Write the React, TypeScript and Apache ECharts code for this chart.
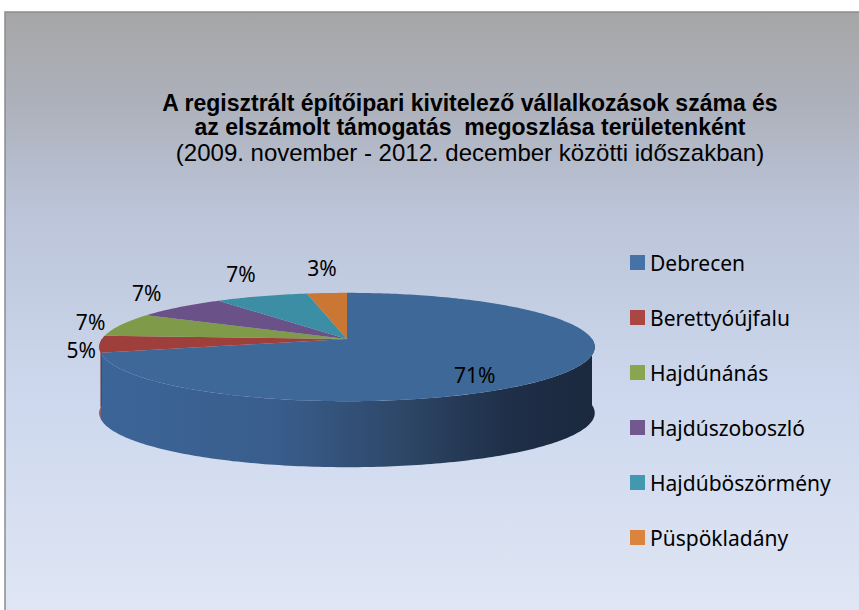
import React, { useEffect, useRef } from 'react';
import * as echarts from 'echarts';

const categories = ['Debrecen', 'Berettyóújfalu', 'Hajdúnánás', 'Hajdúszoboszló', 'Hajdúböszörmény', 'Püspökladány'];
const values = [71, 5, 7, 7, 7, 3];
const legendColors = ['#4572a7', '#aa4643', '#89a54e', '#71588f', '#4198af', '#db843d'];
const topColors = ['#3e6897', '#9e3f3c', '#7f9a48', '#6a5187', '#3b8ea3', '#c97733'];
const sideColors = ['#2e4869', '#8a3633', '#6c843c', '#5a4573', '#317a8c', '#ad652a'];
const titleLines = [
  'A regisztrált építőipari kivitelező vállalkozások száma és',
  'az elszámolt támogatás  megoszlása területenként',
  '(2009. november - 2012. december közötti időszakban)',
];

const total = values.reduce((a, b) => a + b, 0);
const cum: number[] = [0];
values.forEach((v, i) => cum.push(cum[i] + v));

const CX = 347, CY = 339, RX = 245, RY = 53, PERS = 0.148, THICK = 66;

function pt(theta: number, dz: number): number[] {
  const u = Math.sin(theta);
  const v = -Math.cos(theta);
  const s = 1 / (1 - PERS * v);
  return [CX + RX * u * s, CY + RY * v * s + dz];
}
function arc(a0: number, a1: number, dz: number): number[][] {
  const n = Math.max(2, Math.ceil((a1 - a0) / (Math.PI / 180)));
  const pts: number[][] = [];
  for (let k = 0; k <= n; k++) pts.push(pt(a0 + ((a1 - a0) * k) / n, dz));
  return pts;
}

function sideFill(i: number) {
  if (i === 0) {
    return new echarts.graphic.LinearGradient(0, 0, 1, 0, [
      { offset: 0, color: '#3c6597' },
      { offset: 0.35, color: '#395e8d' },
      { offset: 0.6, color: '#2e4869' },
      { offset: 0.82, color: '#1f2f48' },
      { offset: 1, color: '#1b283e' },
    ]);
  }
  return sideColors[i];
}

const renderItem = (params: any, api: any) => {
  const i = params.seriesIndex;
  const val = api.value(0);
  const a0 = (cum[i] / total) * Math.PI * 2;
  const a1 = ((cum[i] + val) / total) * Math.PI * 2;
  const children: any[] = [];
  const b0 = Math.max(a0, Math.PI / 2);
  const b1 = Math.min(a1, (Math.PI * 3) / 2);
  if (b1 > b0) {
    const top = arc(b0, b1, 0);
    const bot = arc(b0, b1, THICK).reverse();
    children.push({
      type: 'polygon',
      z2: 1,
      shape: { points: top.concat(bot) },
      style: { fill: sideFill(i) },
    });
  }
  children.push({
    type: 'polygon',
    z2: 2,
    shape: { points: [[CX, CY]].concat(arc(a0, a1, 0)) },
    style: { fill: topColors[i] },
  });
  const pct = Math.round((val / total) * 100);
  const mid = (a0 + a1) / 2;
  let lx: number, ly: number;
  if (pct > 20) {
    const p = pt(mid, 0);
    lx = CX + (p[0] - CX) * 0.6;
    ly = CY + (p[1] - CY) * 0.6 + THICK * 0.22;
  } else {
    const u = Math.sin(mid), v = -Math.cos(mid);
    lx = CX + (RX + 22) * u;
    ly = CY + 4 + (RY + 22) * v;
  }
  children.push({
    type: 'text',
    z2: 3,
    x: lx,
    y: ly,
    style: {
      text: pct + '%',
      fill: '#000',
      fontFamily: '"Noto Sans", sans-serif',
      fontSize: 21,
      align: 'center',
      verticalAlign: 'middle',
    },
  });
  return { type: 'group', children };
};

export default function App() {
  const ref = useRef<HTMLDivElement>(null);
  useEffect(() => {
    if (!ref.current) return;
    const chart = echarts.init(ref.current, undefined, { renderer: 'svg' });
    const titleY = [103, 127, 152];
    chart.setOption({
      animation: false,
      graphic: [
        {
          type: 'rect',
          z: -1,
          silent: true,
          shape: { x: 5, y: 12, width: 870, height: 620 },
          style: {
            fill: new echarts.graphic.LinearGradient(0, 0, 0, 1, [
              { offset: 0, color: '#a6a6a6' },
              { offset: 0.15, color: '#adb1bb' },
              { offset: 0.32, color: '#bbc4d8' },
              { offset: 0.62, color: '#cdd8ee' },
              { offset: 1, color: '#e1e7f4' },
            ]),
            stroke: '#8c8c8c',
            lineWidth: 1.5,
          },
        },
        ...titleLines.map((t, k) => ({
          type: 'text',
          z: 5,
          x: 470,
          y: titleY[k],
          silent: true,
          style: {
            text: t,
            fill: '#000',
            fontFamily: '"Liberation Sans", Arial, sans-serif',
            fontWeight: k < 2 ? 'bold' : 'normal',
            fontSize: k < 2 ? 23 : 24,
            align: 'center',
            verticalAlign: 'middle',
          },
        })),
      ],
      legend: {
        orient: 'vertical',
        left: 625,
        top: 247,
        itemWidth: 15,
        itemHeight: 15,
        itemGap: 34,
        icon: 'rect',
        selectedMode: false,
        data: categories,
        textStyle: { fontFamily: '"Noto Sans", sans-serif', fontSize: 21, color: '#000' },
      },
      series: categories.map((name, i) => ({
        type: 'custom',
        name,
        coordinateSystem: 'none',
        silent: true,
        renderItem,
        itemStyle: { color: legendColors[i] },
        data: [[values[i]]],
      })),
    });
    return () => chart.dispose();
  }, []);
  return <div ref={ref} style={{ position: 'absolute', left: 0, top: 0, width: 859, height: 610 }} />;
}
